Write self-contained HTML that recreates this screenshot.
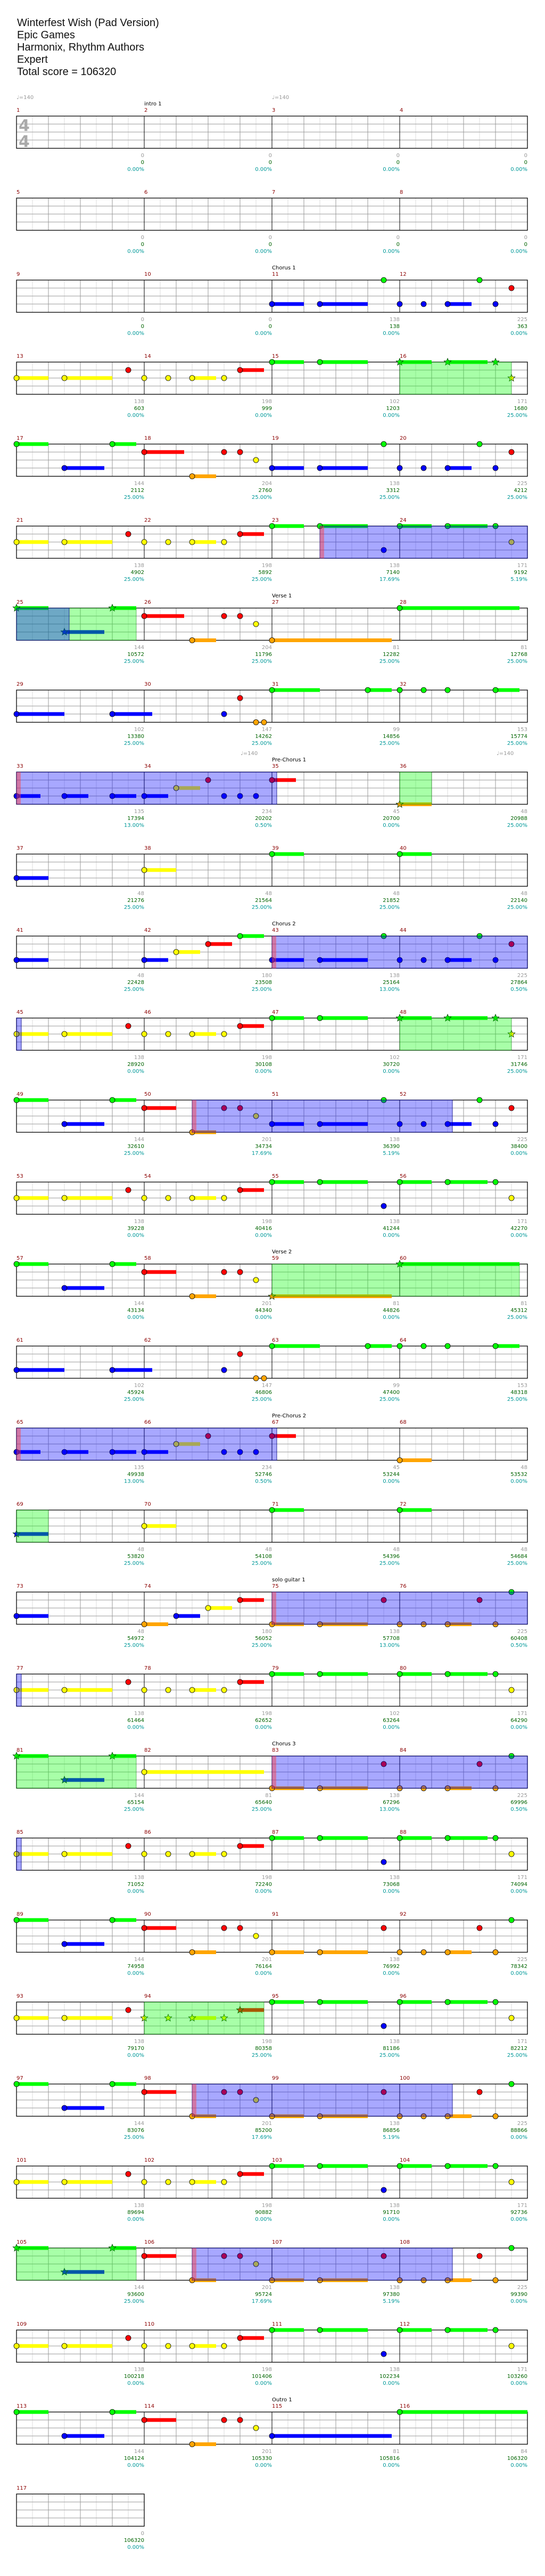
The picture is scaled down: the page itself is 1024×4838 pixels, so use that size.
<!DOCTYPE html>
<html><head><meta charset="utf-8"><style>
html,body{margin:0;padding:0;background:#fff;}
#hdr{position:absolute;left:32px;top:32px;font:20px/23px "Liberation Sans",sans-serif;color:#111;}
svg{position:absolute;left:0;top:0;}
</style></head><body>
<div id="hdr">Winterfest Wish (Pad Version)<br>Epic Games<br>Harmonix, Rhythm Authors<br>Expert<br>Total score = 106320</div>
<svg id="s" width="1024" height="4838" xmlns="http://www.w3.org/2000/svg"></svg>
<script>
const A="Y0-2 Y3-3 R7 Y8 Y9.5 Y11-1.5 Y13 R14-1.5";
const CH="B16-2 B19-3 G23 B24 B25.5 B27-1.5 G29 B30 R31";
const CHO="O16-2 O19-3 R23 O24 O25.5 O27-1.5 R29 O30 G31";
const V="G16-2 G19-3 B23 G24-2 G27-2.5 G30 Y31";
const P="G0-2 G6-1.5 B3-2.5 R8-2 O11-1.5 R13 R14 Y15";
const P25="G0-2 G6-1.5 B3-2.5 R8-2.5 O11-1.5 R13 R14 Y15";
const R29="B0-3 B6-2.5 B13 R14 O15 O15.5 G16-3 G22-1.5 G24 G25.5 G27 G30-1.5";
const R33="B0-1.5 B3-1.5 B6-1.5 B8-1.5 Y10-1.5 R12 B13 B14 B15 R16-1.5";
const Z=[[0,0,"0.00%"],[0,0,"0.00%"],[0,0,"0.00%"],[0,0,"0.00%"]];
function sc(a){const r=[];for(let i=0;i<a.length;i+=3)r.push([a[i],a[i+1],a[i+2]+"%"]);return r;}
const rows=[
 {n:1,notes:"",reg:"",s:Z,sec:[1,"intro 1"],ts:1},
 {n:5,notes:"",reg:"",s:Z},
 {n:9,notes:CH,reg:"",s:sc([0,0,"0.00",0,0,"0.00",138,138,"0.00",225,363,"0.00"]),sec:[2,"Chorus 1"]},
 {n:13,notes:A+" G16-2 G19-3 *G24-2 *G27-2.5 *G30 *Y31",reg:"g24-31",s:sc([138,603,"0.00",198,999,"0.00",102,1203,"0.00",171,1680,"25.00"])},
 {n:17,notes:P25+" "+CH,reg:"",s:sc([144,2112,"25.00",204,2760,"25.00",138,3312,"25.00",225,4212,"25.00"])},
 {n:21,notes:A+" "+V,reg:"b19-32s",s:sc([138,4902,"25.00",198,5892,"25.00",138,7140,"17.69",171,9192,"5.19"])},
 {n:25,notes:"*G0-2 *G6-1.5 *B3-2.5 R8-2.5 O11-1.5 R13 R14 Y15 O16-7.5 G24-7.5",reg:"g0-7.5 b0-3.3",s:sc([144,10572,"25.00",204,11796,"25.00",81,12282,"25.00",81,12768,"25.00"]),sec:[2,"Verse 1"]},
 {n:29,notes:R29,reg:"",s:sc([102,13380,"25.00",147,14262,"25.00",99,14856,"25.00",153,15774,"25.00"])},
 {n:33,notes:R33+" *O24-2",reg:"b0-16.3s g24-26",s:sc([135,17394,"13.00",234,20202,"0.50",45,20700,"0.00",48,20988,"25.00"]),sec:[2,"Pre-Chorus 1"],tempo:[452,933]},
 {n:37,notes:"B0-2 Y8-2 G16-2 G24-2",reg:"",s:sc([48,21276,"25.00",48,21564,"25.00",48,21852,"25.00",48,22140,"25.00"])},
 {n:41,notes:"B0-2 B8-1.5 Y10-1.5 R12-1.5 G14-1.5 "+CH,reg:"b16-32s",s:sc([48,22428,"25.00",180,23508,"25.00",138,25164,"13.00",225,27864,"0.50"]),sec:[2,"Chorus 2"]},
 {n:45,notes:A+" G16-2 G19-3 *G24-2 *G27-2.5 *G30 *Y31",reg:"b0-0.3 g24-31",s:sc([138,28920,"0.00",198,30108,"0.00",102,30720,"0.00",171,31746,"25.00"])},
 {n:49,notes:P+" "+CH,reg:"b11-27.3s",s:sc([144,32610,"25.00",201,34734,"17.69",138,36390,"5.19",225,38400,"0.00"])},
 {n:53,notes:A+" "+V,reg:"",s:sc([138,39228,"0.00",198,40416,"0.00",138,41244,"0.00",171,42270,"0.00"])},
 {n:57,notes:P+" *O16-7.5 *G24-7.5",reg:"g16-31.5",s:sc([144,43134,"0.00",201,44340,"0.00",81,44826,"0.00",81,45312,"25.00"]),sec:[2,"Verse 2"]},
 {n:61,notes:R29,reg:"",s:sc([102,45924,"25.00",147,46806,"25.00",99,47400,"25.00",153,48318,"25.00"])},
 {n:65,notes:R33+" O24-2",reg:"b0-16.3s",s:sc([135,49938,"13.00",234,52746,"0.50",45,53244,"0.00",48,53532,"0.00"]),sec:[2,"Pre-Chorus 2"]},
 {n:69,notes:"*B0-2 Y8-2 G16-2 G24-2",reg:"g0-2",s:sc([48,53820,"25.00",48,54108,"25.00",48,54396,"25.00",48,54684,"25.00"])},
 {n:73,notes:"B0-2 O8-1.5 B10-1.5 Y12-1.5 R14-1.5 "+CHO,reg:"b16-32s",s:sc([48,54972,"25.00",180,56052,"25.00",138,57708,"13.00",225,60408,"0.50"]),sec:[2,"solo guitar 1"]},
 {n:77,notes:A+" G16-2 G19-3 G24-2 G27-2.5 G30 Y31",reg:"b0-0.3",s:sc([138,61464,"0.00",198,62652,"0.00",102,63264,"0.00",171,64290,"0.00"])},
 {n:81,notes:"*G0-2 *G6-1.5 *B3-2.5 Y8-7.5 "+CHO,reg:"g0-7.5 b16-32s",s:sc([144,65154,"25.00",81,65640,"25.00",138,67296,"13.00",225,69996,"0.50"]),sec:[2,"Chorus 3"]},
 {n:85,notes:A+" "+V,reg:"b0-0.3",s:sc([138,71052,"0.00",198,72240,"0.00",138,73068,"0.00",171,74094,"0.00"])},
 {n:89,notes:P+" "+CHO,reg:"",s:sc([144,74958,"0.00",201,76164,"0.00",138,76992,"0.00",225,78342,"0.00"])},
 {n:93,notes:"Y0-2 Y3-3 R7 *Y8 *Y9.5 *Y11-1.5 *Y13 *R14-1.5 "+V,reg:"g8-15.5",s:sc([138,79170,"0.00",198,80358,"25.00",138,81186,"25.00",171,82212,"25.00"])},
 {n:97,notes:P+" "+CHO,reg:"b11-27.3s",s:sc([144,83076,"25.00",201,85200,"17.69",138,86856,"5.19",225,88866,"0.00"])},
 {n:101,notes:A+" "+V,reg:"",s:sc([138,89694,"0.00",198,90882,"0.00",138,91710,"0.00",171,92736,"0.00"])},
 {n:105,notes:"*G0-2 *G6-1.5 *B3-2.5 R8-2 O11-1.5 R13 R14 Y15 "+CHO,reg:"g0-7.5 b11-27.3s",s:sc([144,93600,"25.00",201,95724,"17.69",138,97380,"5.19",225,99390,"0.00"])},
 {n:109,notes:A+" "+V,reg:"",s:sc([138,100218,"0.00",198,101406,"0.00",138,102234,"0.00",171,103260,"0.00"])},
 {n:113,notes:P+" B16-7.5 G24-8",reg:"",s:sc([144,104124,"0.00",201,105330,"0.00",81,105816,"0.00",84,106320,"0.00"]),sec:[2,"Outro 1"]},
 {n:117,notes:"",reg:"",s:[[0,106320,"0.00%"]],m:1}
];
const COL={G:"#00ff00",R:"#ff0000",Y:"#ffff00",B:"#0000ff",O:"#ffa500"};
const LN={G:0,R:1,Y:2,B:3,O:4};
const LY=[0,15,30,45,60.5];
const X0=31,E=30;
let o=[];
const F='font-family="DejaVu Sans,sans-serif" font-size="10"';
o.push(`<text x="31" y="186" ${F} fill="#999">♩=140</text><text x="511" y="186" ${F} fill="#999">♩=140</text>`);
rows.forEach((r,k)=>{
 const T=218+154*k, nm=r.m||4, W=nm*240, B=T+60.5;
 // grid
 for(let e=1;e<nm*8;e++){const xx=X0+e*E;const c=e%8==0?"#000":(e%2==0?"#999":"#ddd");
  if(e%8)o.push(`<line x1="${xx}" y1="${T}" x2="${xx}" y2="${B}" stroke="${c}" stroke-width="1"/>`);}
 for(let i=1;i<4;i++)o.push(`<line x1="${X0}" y1="${T+i*15}" x2="${X0+W}" y2="${T+i*15}" stroke="#999" stroke-width="1"/>`);
 for(let m=1;m<nm;m++){const xx=X0+m*240;o.push(`<line x1="${xx}" y1="${T}" x2="${xx}" y2="${B}" stroke="#000" stroke-width="1"/>`);}
 o.push(`<rect x="${X0}" y="${T}" width="${W}" height="60.5" fill="none" stroke="#000" stroke-width="1.3"/>`);
 // measure numbers and scores
 for(let m=0;m<nm;m++){const xx=X0+m*240;
  o.push(`<text x="${xx}" y="${T-8}" ${F} fill="#8b0000">${r.n+m}</text>`);
  const s=r.s[m],xe=X0+(m+1)*240;
  o.push(`<text x="${xe}" y="${T+77}" ${F} fill="#999" text-anchor="end">${s[0]}</text>`);
  o.push(`<text x="${xe}" y="${T+90}" ${F} fill="#006400" text-anchor="end">${s[1]}</text>`);
  o.push(`<text x="${xe}" y="${T+103}" ${F} fill="#009999" text-anchor="end">${s[2]}</text>`);}
 if(r.sec)o.push(`<text x="${X0+r.sec[0]*240}" y="${T-20}" ${F} fill="#000">${r.sec[1]}</text>`);
 if(r.tempo)r.tempo.forEach(t=>o.push(`<text x="${t}" y="${T-32}" ${F} fill="#999">♩=140</text>`));
 if(r.ts)o.push(`<text x="35" y="${T+28}" font-family="DejaVu Sans,sans-serif" font-weight="bold" font-size="30" fill="#aaa">4</text><text x="35" y="${T+58}" font-family="DejaVu Sans,sans-serif" font-weight="bold" font-size="30" fill="#aaa">4</text>`);
 // notes
 const toks=r.notes.split(/\s+/).filter(Boolean).map(t=>{let st=false;if(t[0]=="*"){st=true;t=t.slice(1);}
  const L=t[0];const p=t.slice(1).split("-");return {L,s:+p[0],l:p[1]?+p[1]:0,st};});
 toks.forEach(n=>{if(n.l){const y=T+LY[LN[n.L]];o.push(`<rect x="${X0+n.s*E}" y="${y-3.5}" width="${n.l*E}" height="7" fill="${COL[n.L]}"/>`);}});
 toks.forEach(n=>{const cx=X0+n.s*E,cy=T+LY[LN[n.L]];
  if(n.st){let pts=[];for(let i=0;i<10;i++){const a=-Math.PI/2+i*Math.PI/5,rr=i%2?3:7;pts.push((cx+rr*Math.cos(a)).toFixed(1)+","+(cy+rr*Math.sin(a)).toFixed(1));}
   o.push(`<polygon points="${pts.join(" ")}" fill="${COL[n.L]}" stroke="#030" stroke-width="0.8"/>`);}
  else o.push(`<circle cx="${cx}" cy="${cy}" r="5" fill="${COL[n.L]}" stroke="#000" stroke-width="0.8"/>`);});
 // regions
 r.reg.split(/\s+/).filter(Boolean).forEach(g=>{const strip=g.endsWith("s");if(strip)g=g.slice(0,-1);
  const t=g[0],p=g.slice(1).split("-").map(Number);const x1=X0+p[0]*E,x2=X0+p[1]*E;
  if(t=="b"){o.push(`<rect x="${x1}" y="${T}" width="${x2-x1}" height="60.5" fill="rgba(0,0,255,0.34)" stroke="rgba(0,0,128,0.8)" stroke-width="1"/>`);
   if(strip)o.push(`<rect x="${x1}" y="${T}" width="8" height="60.5" fill="rgba(255,60,60,0.45)"/>`);}
  else o.push(`<rect x="${x1}" y="${T}" width="${x2-x1}" height="60.5" fill="rgba(0,255,0,0.34)" stroke="rgba(0,120,0,0.5)" stroke-width="1"/>`);});
});
document.getElementById("s").innerHTML=o.join("");
</script>
</body></html>
